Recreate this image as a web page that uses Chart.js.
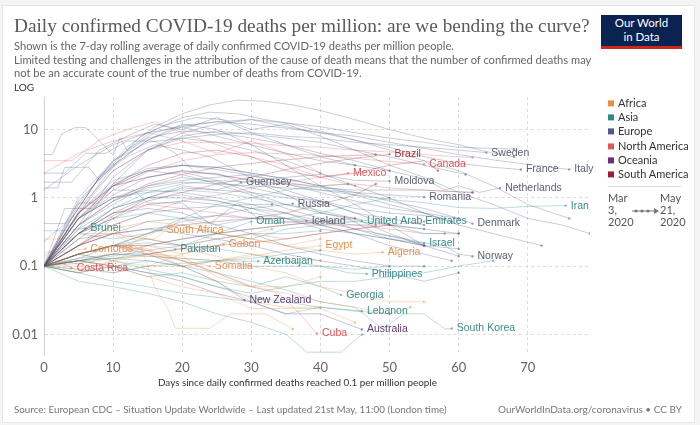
<!DOCTYPE html>
<html>
<head>
<meta charset="utf-8">
<script src="https://cdn.jsdelivr.net/npm/chart.js@4.4.0/dist/chart.umd.min.js"></script>
<style>
  html, body { margin: 0; padding: 0; }
  body { width: 700px; height: 425px; background: #f4f4f4; position: relative; overflow: hidden; font-family: Lato, "Noto Sans", sans-serif; }
  #card { position: absolute; left: 2px; top: 5px; width: 691px; height: 416px; background: #fff; border: 1px solid #e6e6e6; }
  #chart { position: absolute; left: 0; top: 0; }
  .t { position: absolute; white-space: nowrap; line-height: 1.2; transform: translateY(-50%); }
  #title { left: 14px; top: 26px; font-family: "Liberation Serif", serif; font-size: 21px; color: #5a5a5a; }
  .sub { left: 14px; font-size: 12px; color: #666; }
  #log { left: 14px; top: 87px; font-size: 10px; color: #333; }
  #logo { position: absolute; left: 601px; top: 15px; width: 81px; height: 30px; background: #0b2350; border-bottom: 3px solid #ce261e; color: #fff; font-size: 11.5px; text-align: center; line-height: 14px; padding-top: 1px; }
  .leg { left: 608px; font-size: 11px; color: #333; }
  .leg i { display: inline-block; width: 6px; height: 6px; margin-right: 4px; vertical-align: 1px; }
  #sep { position: absolute; left: 608px; top: 186px; width: 73px; height: 1px; background: #ddd; }
  .tm { font-size: 11px; color: #555; }
  #xtitle { left: 158px; top: 383px; font-size: 10.5px; color: #333; }
  .foot { top: 410px; font-size: 10.5px; color: #777; }
</style>
</head>
<body>
<div id="card"></div>
<canvas id="chart" width="700" height="425"></canvas>
<div class="t" id="title">Daily confirmed COVID-19 deaths per million: are we bending the curve?</div>
<div class="t sub" id="sub1" style="top:46px">Shown is the 7-day rolling average of daily confirmed COVID-19 deaths per million people.</div>
<div class="t sub" id="sub2" style="top:60px">Limited testing and challenges in the attribution of the cause of death means that the number of confirmed deaths may</div>
<div class="t sub" id="sub3" style="top:73px">not be an accurate count of the true number of deaths from COVID-19.</div>
<div class="t" id="log">LOG</div>
<div id="logo">Our World<br>in Data</div>
<div id="legend"></div>
<div id="sep"></div>
<div class="t tm" style="left:608px;top:198px">Mar</div>
<div class="t tm" style="left:608px;top:210px">3,</div>
<div class="t tm" style="left:608px;top:222px">2020</div>
<div class="t tm" style="left:660px;top:198px">May</div>
<div class="t tm" style="left:660px;top:210px">21,</div>
<div class="t tm" style="left:660px;top:222px">2020</div>
<svg style="position:absolute;left:630px;top:206px" width="32" height="10">
  <line x1="2" y1="5" x2="26" y2="5" stroke="#777" stroke-width="1"/>
  <circle cx="6" cy="5" r="1.6" fill="#777"/><circle cx="12" cy="5" r="1.6" fill="#777"/><circle cx="18" cy="5" r="1.6" fill="#777"/>
  <path d="M24 2 L29 5 L24 8 Z" fill="#777"/>
</svg>
<div class="t" id="xtitle">Days since daily confirmed deaths reached 0.1 per million people</div>
<div class="t foot" id="foot1" style="left:14px">Source: European CDC – Situation Update Worldwide – Last updated 21st May, 11:00 (London time)</div>
<div class="t foot" id="foot2" style="left:498px">OurWorldInData.org/coronavirus • CC BY</div>
<script>
// regions
const regionNames = ["Africa", "Asia", "Europe", "North America", "Oceania", "South America"];
const regionColors = ["#e8903f", "#2c8a8a", "#4a5a80", "#e0575b", "#6a2d80", "#9e2030"];
const labelColors = ["#e8904f", "#3a8c8a", "#5b6275", "#de5558", "#5e3a73", "#a8353d"];

// [days since 0.1/million, deaths per million (7-day avg)]
// Europe
const sweden = [[0,0.1],[3,0.3],[6,0.9],[10,2.5],[15,5],[20,7.5],[25,8.5],[30,9],[35,8],[40,7.5],[45,6.5],[50,6],[55,5.5],[60,5],[64,4.6]];
const france = [[0,0.1],[5,0.35],[10,1.6],[15,5],[20,9],[25,12],[30,14],[35,11],[40,9],[45,7],[50,5.5],[55,4],[60,3.2],[65,2.8],[69,2.6]];
const italy = [[0,0.1],[4,0.5],[8,2],[12,5],[16,9],[20,11.5],[25,13],[30,12],[35,10.5],[40,9],[45,8],[50,6.5],[55,5.3],[60,4.3],[65,3.6],[70,3.1],[76,2.6]];
const netherlands = [[0,0.1],[5,0.8],[10,3.5],[15,7.5],[20,9.5],[25,9],[30,7.5],[35,6],[40,4.5],[45,3.5],[50,2.5],[55,1.9],[58,1.3],[60,1.5],[63,1.2],[66,1.4]];
const moldova = [[0,0.1],[5,0.3],[10,0.6],[15,1],[20,1.5],[25,1.3],[30,1.8],[35,2],[40,2.2],[45,1.8],[50,1.76]];
const romania = [[0,0.1],[5,0.4],[10,0.9],[15,1.4],[20,1.7],[25,1.6],[30,1.5],[35,1.4],[40,1.3],[45,1.2],[50,1.1],[55,1.03]];
const denmark = [[0,0.1],[5,0.6],[10,1.5],[15,2.5],[20,3],[25,2.8],[30,2.3],[35,1.9],[40,1.5],[45,1.2],[50,0.9],[55,0.7],[60,0.5],[62,0.42]];
const norway = [[0,0.1],[5,0.5],[10,1],[15,1.3],[20,1.2],[25,1],[30,0.8],[35,0.6],[40,0.45],[45,0.35],[50,0.28],[55,0.22],[58,0.2],[60,0.15],[62,0.14]];
const iceland = [[0,0.42],[3,0.42],[5,0.84],[8,0.84],[10,1.3],[13,1.3],[15,0.84],[20,0.84],[24,0.42],[28,0.84],[32,0.42],[38,0.46]];
const russia = [[0,0.1],[5,0.13],[10,0.2],[15,0.3],[20,0.45],[25,0.55],[30,0.7],[36,0.82]];
const guernsey = [[0,2.3],[3,2.3],[6,4.5],[9,4.5],[12,6.8],[16,6.8],[19,4.5],[22,2.3],[25,2.3],[28.5,1.7]];
const belgium = [[0,0.1],[4,0.5],[8,2],[12,5.5],[16,11],[20,17],[24,23],[28,27],[32,26],[36,23],[40,19],[45,14],[50,10],[55,7.5],[60,6],[65,4.5],[68,4]];
const spain = [[0,0.1],[4,0.4],[8,1.6],[12,5],[16,10],[20,15],[24,18],[28,17],[32,14],[36,12],[40,9.5],[45,7],[50,5],[55,3.5],[60,2.5],[65,1.5],[70,0.8],[76,0.5]];
const uk = [[0,0.1],[5,0.9],[10,3],[15,7],[20,11],[25,13],[30,14],[35,12.5],[40,11],[45,9],[50,7.5],[55,6.5],[60,5.5],[65,5.3],[68,5.2]];
const ireland = [[0,0.1],[5,0.4],[10,2],[15,5],[20,8],[25,9.5],[30,8.5],[35,7.5],[40,6.5],[45,5],[50,4],[55,3],[61,2.2]];
const switzerland = [[0,0.1],[5,1],[10,3.5],[15,6.5],[20,7.5],[25,6.5],[30,5],[35,3.5],[40,2.3],[45,1.5],[50,1],[55,0.6],[60,0.4],[65,0.3],[72,0.2]];
const germany = [[0,0.1],[5,0.5],[10,1.5],[15,2.5],[20,3],[25,2.8],[30,2.3],[35,1.9],[40,1.5],[45,1.1],[50,0.8],[55,0.6],[60,0.5]];
const austria = [[0,0.1],[5,0.6],[10,1.8],[15,2.5],[20,2.2],[25,1.6],[30,1.1],[35,0.7],[40,0.5],[45,0.35],[50,0.25],[55,0.2],[60,0.18]];
const portugal = [[0,0.1],[5,0.6],[10,1.6],[15,2.7],[20,3],[25,2.6],[30,2.1],[35,1.7],[40,1.4],[45,1.3],[50,1.3],[55,1.3],[62,1.2]];
const sanMarino = [[0,4.3],[1.2,4.3],[2.6,8.7],[4.5,10.7],[6,10.7],[7,8.7],[10,4.2],[11,7.5],[12,5],[14,8],[18,12],[22,15],[26,14],[30,10],[35,12],[40,8],[45,5],[50,3],[55,2],[60,1.2],[65,0.8],[70,0.5],[75,0.4],[79,0.3]];
const andorra = [[0,1.4],[2,1.4],[3,2.8],[6.5,2.8],[8,1.8],[10,3],[15,7],[20,12],[25,10],[30,6],[35,3],[40,1.5],[45,0.8],[50,0.4],[55,0.2]];
const luxembourg = [[0,0.23],[4,0.5],[8,2],[12,4],[16,6],[20,5],[24,4],[28,2.5],[32,1.5],[36,1],[40,0.6],[44,0.5],[48,0.3],[52,0.25],[55,0.2]];
const slovenia = [[0,0.1],[3,0.7],[7,0.7],[10,1.5],[15,2],[20,2.4],[25,1.8],[30,1.2],[35,0.8],[40,0.6],[45,0.5],[50,0.3],[55,0.2],[60,0.14]];
const hungary = [[0,0.1],[5,0.2],[10,0.5],[15,1],[20,1.4],[25,1.3],[30,1.2],[35,1],[40,0.9],[45,0.7],[50,0.6],[55,0.55],[58,0.5]];
const bosnia = [[0,0.1],[5,0.3],[10,0.7],[15,1],[20,1],[25,0.9],[30,0.7],[35,0.6],[40,0.4],[45,0.3],[50,0.2],[55,0.15],[59,0.12]];
const finland = [[0,0.1],[5,0.4],[10,0.8],[15,1.5],[20,1.8],[25,2],[30,2.2],[35,1.6],[40,1.2],[45,0.9],[50,0.7],[55,0.6],[59,0.45]];
const estonia = [[0,0.1],[5,0.5],[10,1.1],[15,2],[20,2.5],[25,2.2],[30,1.8],[35,1.3],[40,0.9],[45,0.6],[50,0.4],[55,0.35],[60,0.3]];
const serbia = [[0,0.1],[5,0.3],[10,0.5],[15,0.8],[20,0.9],[25,0.8],[30,0.6],[35,0.5],[40,0.35],[45,0.3],[50,0.25],[55,0.2]];
const poland = [[0,0.1],[5,0.2],[10,0.3],[15,0.45],[20,0.5],[25,0.55],[30,0.5],[35,0.5],[40,0.45],[45,0.4],[48,0.4]];
const greece = [[0,0.1],[5,0.25],[10,0.3],[15,0.35],[20,0.3],[25,0.25],[30,0.2],[35,0.15],[40,0.12],[45,0.1],[50,0.08],[55,0.06],[60,0.08]];
const isleOfMan = [[0,1.7],[4,1.7],[8,5],[12,8],[16,12],[20,10],[25,15],[30,9],[35,6],[40,4],[45,3],[50,2.5]];
const jersey = [[0,1.3],[5,3],[10,6],[15,9],[20,11],[25,8],[30,6],[35,4.5],[40,3.5],[45,3]];
const northMacedonia = [[0,0.1],[5,0.5],[10,1],[15,1.5],[20,2],[25,1.7],[30,1.4],[35,1.1],[40,0.9],[45,0.6],[50,0.5],[55,0.4]];
const belarus = [[0,0.1],[5,0.2],[10,0.4],[15,0.6],[20,0.7],[25,0.75],[30,0.8],[33,0.8]];
const czechia = [[0,0.1],[5,0.3],[10,0.6],[15,0.7],[20,0.6],[25,0.4],[30,0.3],[35,0.2],[40,0.15],[45,0.12],[50,0.1],[55,0.1]];
// North America
const canada = [[0,0.1],[5,0.5],[10,1.3],[15,2.4],[20,3.5],[25,4.3],[30,4.6],[35,4.4],[40,4.2],[45,3.8],[50,3.4],[55,3.1]];
const mexico = [[0,0.1],[5,0.2],[10,0.4],[15,0.6],[20,0.9],[25,1.1],[30,1.4],[35,1.7],[40,2],[44,2.3]];
const costaRica = [[0,0.1],[2,0.12],[4,0.093]];
const cuba = [[0,0.1],[5,0.15],[10,0.2],[15,0.17],[20,0.12],[25,0.08],[30,0.05],[34,0.04],[37,0.02],[39.5,0.0103]];
const us = [[0,0.1],[5,0.6],[10,2.5],[15,5],[20,6.5],[25,6.5],[30,6.3],[35,5.8],[40,5.5],[45,5],[50,4.7],[55,4.3],[60,4],[62,3.9]];
const panama = [[0,0.1],[5,0.5],[10,1.5],[15,2],[20,2.5],[25,2.2],[30,1.8],[35,1.6],[40,1.5],[45,1.6],[50,1.4],[55,1.3],[62,1.2]];
const dominicanRep = [[0,0.1],[5,0.3],[10,0.6],[15,0.8],[20,0.7],[25,0.6],[30,0.5],[35,0.45],[40,0.4],[45,0.4],[50,0.35],[55,0.3],[60,0.3]];
const honduras = [[0,0.1],[5,0.2],[10,0.3],[15,0.25],[20,0.2],[25,0.25],[30,0.3],[35,0.25],[40,0.3],[45,0.35],[50,0.4],[55,0.45]];
const sintMaarten = [[0,3.5],[4,3.5],[8,7],[12,10],[16,13],[20,9],[25,6],[30,4],[35,3],[40,2],[45,1.5]];
const bermuda = [[0,2.3],[5,4.5],[10,6.8],[15,9],[20,6.8],[25,4.5],[30,6.8],[35,4.5],[40,2.3]];
// South America
const brazil = [[0,0.1],[5,0.25],[10,0.55],[15,0.9],[20,1.2],[25,1.6],[30,2],[35,2.6],[40,3.2],[45,3.8],[50,4.34]];
const ecuador = [[0,0.1],[5,0.6],[10,1.5],[15,3],[20,4.5],[25,5],[30,4],[35,2.5],[40,2],[45,2.3],[50,3],[55,3.5],[57,2.5]];
const peru = [[0,0.1],[5,0.4],[10,0.9],[15,1.6],[20,2.2],[25,2.8],[30,3.2],[35,3.6],[40,4],[45,4.2],[48,4.3]];
const chile = [[0,0.1],[5,0.2],[10,0.3],[15,0.35],[20,0.4],[25,0.45],[30,0.5],[35,0.6],[40,0.8],[45,1.1],[48,1.6]];
const bolivia = [[0,0.1],[5,0.15],[10,0.2],[15,0.2],[20,0.25],[25,0.3],[30,0.35],[35,0.4],[40,0.45],[45,0.5]];
const colombia = [[0,0.1],[5,0.12],[10,0.15],[15,0.15],[20,0.18],[25,0.2],[30,0.22],[35,0.25],[40,0.3],[45,0.35],[50,0.4]];
// Asia
const iran = [[0,0.1],[5,0.3],[10,0.7],[15,1.2],[20,1.6],[25,1.8],[30,1.7],[35,1.6],[40,1.3],[45,1.1],[50,0.95],[55,0.85],[60,0.72],[65,0.7],[70,0.75],[75.5,0.77]];
const uae = [[0,0.1],[5,0.12],[10,0.15],[15,0.2],[20,0.25],[25,0.3],[30,0.35],[35,0.4],[40,0.45],[46,0.46]];
const oman = [[0,0.1],[5,0.15],[10,0.2],[15,0.25],[20,0.2],[25,0.3],[30,0.45]];
const brunei = [[0,0.33],[3,0.33],[6,0.36]];
const pakistan = [[0,0.1],[5,0.11],[10,0.13],[15,0.15],[19,0.176]];
const israel = [[0,0.1],[5,0.35],[10,0.7],[15,1],[20,1.1],[25,0.9],[30,0.7],[35,0.5],[40,0.4],[45,0.3],[50,0.25],[55,0.216]];
const azerbaijan = [[0,0.1],[5,0.08],[10,0.1],[15,0.12],[20,0.1],[25,0.12],[31,0.118]];
const philippines = [[0,0.1],[5,0.15],[10,0.2],[15,0.22],[20,0.2],[25,0.18],[30,0.15],[35,0.12],[40,0.1],[44,0.08],[46.7,0.077]];
const georgia = [[0,0.1],[5,0.08],[10,0.1],[15,0.07],[20,0.08],[25,0.06],[30,0.05],[35,0.07],[40,0.05],[43,0.038]];
const lebanon = [[0,0.1],[5,0.08],[10,0.06],[15,0.05],[20,0.04],[25,0.035],[30,0.03],[35,0.02],[40,0.025],[46,0.022]];
const southKorea = [[0,0.1],[5,0.12],[10,0.13],[15,0.12],[20,0.1],[25,0.08],[30,0.06],[35,0.045],[40,0.03],[45,0.025],[49,0.012],[52,0.02],[55,0.02],[58,0.012],[59,0.0122]];
const turkey = [[0,0.1],[5,0.5],[10,1],[15,1.2],[20,1.3],[25,1.2],[30,1],[35,0.8],[40,0.65],[45,0.5],[50,0.4],[55,0.3],[58,0.3]];
const kuwait = [[0,0.1],[5,0.15],[10,0.2],[15,0.3],[20,0.5],[25,0.8],[30,1],[35,1.3],[40,1.5],[44,1.6]];
const bahrain = [[0,0.1],[5,0.3],[10,0.25],[15,0.3],[20,0.4],[25,0.3],[30,0.25],[35,0.35],[40,0.4],[45,0.45],[50,0.4],[55,0.35]];
const saudiArabia = [[0,0.1],[5,0.12],[10,0.14],[15,0.17],[20,0.2],[25,0.25],[30,0.3],[35,0.3],[40,0.33]];
const armenia = [[0,0.1],[5,0.3],[10,0.5],[15,0.6],[20,0.5],[25,0.4],[30,0.5],[35,0.5],[40,0.6],[45,0.8],[50,1]];
const malaysia = [[0,0.1],[5,0.15],[10,0.12],[15,0.09],[20,0.07],[25,0.05],[30,0.035],[35,0.03],[40,0.025],[45,0.022],[50,0.02]];
const iraq = [[0,0.1],[5,0.12],[10,0.1],[15,0.08],[20,0.07],[25,0.05],[30,0.04],[35,0.05],[40,0.06],[45,0.06],[50,0.07],[55,0.08],[60,0.1],[65,0.12]];
const indonesia = [[0,0.1],[5,0.13],[10,0.15],[15,0.14],[20,0.13],[25,0.12],[30,0.1],[35,0.1],[40,0.1],[45,0.09],[50,0.1]];
const sriLanka = [[0,0.1],[5,0.06],[10,0.05],[15,0.04],[20,0.03],[25,0.02],[30,0.015],[35,0.01],[38,0.0055],[43,0.0055],[46,0.01]];
const bangladesh = [[0,0.1],[5,0.09],[10,0.08],[15,0.1],[20,0.11],[25,0.12],[30,0.13],[35,0.15],[40,0.17]];
// Africa
const southAfrica = [[0,0.1],[3,0.12],[6,0.1],[9,0.15],[12,0.2],[15,0.28],[17,0.34]];
const comoros = [[0,0.16],[3,0.16],[6,0.18]];
const gabon = [[0,0.1],[5,0.15],[10,0.12],[15,0.2],[20,0.15],[26,0.21]];
const egypt = [[0,0.1],[5,0.12],[10,0.13],[15,0.14],[20,0.13],[25,0.12],[30,0.14],[35,0.17],[40,0.2]];
const algeria = [[0,0.1],[5,0.2],[10,0.35],[15,0.45],[20,0.4],[25,0.3],[30,0.25],[35,0.2],[40,0.17],[45,0.15],[49,0.16]];
const somalia = [[0,0.1],[5,0.09],[10,0.12],[15,0.15],[20,0.12],[24,0.1]];
const morocco = [[0,0.1],[5,0.15],[10,0.2],[15,0.2],[20,0.18],[25,0.14],[30,0.1],[35,0.08],[40,0.05],[45,0.04],[50,0.03],[55,0.03]];
const tunisia = [[0,0.1],[5,0.15],[10,0.2],[15,0.18],[20,0.12],[25,0.08],[30,0.05],[35,0.04],[40,0.03],[45,0.025],[50,0.02],[53,0.025]];
const cameroon = [[0,0.1],[5,0.08],[10,0.12],[15,0.1],[20,0.1],[25,0.12],[30,0.15],[35,0.13],[40,0.12]];
const djibouti = [[0,0.14],[5,0.3],[10,0.3],[15,0.15],[20,0.14],[25,0.07],[30,0.05],[35,0.05],[40,0.07]];
const mauritius = [[0,0.11],[3,0.35],[7,0.8],[10,0.5],[14,0.2],[16,0.05],[18,0.023],[19,0.0123],[24,0.0123],[27,0.02],[32,0.02],[36,0.012]];
const capeVerde = [[0,0.25],[4,0.25],[8,0.5],[12,0.25],[16,0.25],[20,0.5],[25,0.3],[30,0.25],[35,0.2],[40,0.25]];
const sudan = [[0,0.1],[5,0.1],[10,0.08],[15,0.1],[20,0.15],[25,0.2],[30,0.3],[33,0.35]];
const liberia = [[0,0.1],[5,0.15],[10,0.2],[15,0.17],[20,0.1],[25,0.06],[30,0.03],[35,0.025],[40,0.025]];
const niger = [[0,0.1],[5,0.12],[10,0.1],[15,0.07],[20,0.05],[25,0.04],[30,0.024],[35,0.024],[40,0.024],[45,0.015]];
// Oceania
const newZealand = [[0,0.1],[5,0.15],[10,0.2],[15,0.15],[20,0.1],[25,0.06],[29,0.032]];
const australia = [[0,0.1],[5,0.12],[10,0.1],[15,0.08],[20,0.06],[25,0.04],[30,0.03],[35,0.02],[40,0.02],[46,0.0118]];

// name, region, data, labelled
const countries = [
  ["San Marino", "Europe", sanMarino, false], ["Andorra", "Europe", andorra, false],
  ["Belgium", "Europe", belgium, false], ["Spain", "Europe", spain, false], ["United Kingdom", "Europe", uk, false],
  ["Ireland", "Europe", ireland, false], ["Switzerland", "Europe", switzerland, false], ["Germany", "Europe", germany, false],
  ["Austria", "Europe", austria, false], ["Portugal", "Europe", portugal, false], ["Luxembourg", "Europe", luxembourg, false],
  ["Slovenia", "Europe", slovenia, false], ["Hungary", "Europe", hungary, false], ["Bosnia and Herzegovina", "Europe", bosnia, false],
  ["Finland", "Europe", finland, false], ["Estonia", "Europe", estonia, false], ["Serbia", "Europe", serbia, false],
  ["Poland", "Europe", poland, false], ["Greece", "Europe", greece, false],
  ["Isle of Man", "Europe", isleOfMan, false], ["Jersey", "Europe", jersey, false],
  ["North Macedonia", "Europe", northMacedonia, false], ["Belarus", "Europe", belarus, false], ["Czechia", "Europe", czechia, false],
  ["United States", "North America", us, false], ["Panama", "North America", panama, false],
  ["Dominican Republic", "North America", dominicanRep, false], ["Honduras", "North America", honduras, false],
  ["Sint Maarten", "North America", sintMaarten, false], ["Bermuda", "North America", bermuda, false],
  ["Ecuador", "South America", ecuador, false], ["Peru", "South America", peru, false], ["Chile", "South America", chile, false],
  ["Bolivia", "South America", bolivia, false], ["Colombia", "South America", colombia, false],
  ["Turkey", "Asia", turkey, false], ["Kuwait", "Asia", kuwait, false], ["Bahrain", "Asia", bahrain, false],
  ["Saudi Arabia", "Asia", saudiArabia, false], ["Armenia", "Asia", armenia, false], ["Malaysia", "Asia", malaysia, false],
  ["Iraq", "Asia", iraq, false], ["Indonesia", "Asia", indonesia, false], ["Sri Lanka", "Asia", sriLanka, false],
  ["Bangladesh", "Asia", bangladesh, false],
  ["Morocco", "Africa", morocco, false], ["Tunisia", "Africa", tunisia, false], ["Cameroon", "Africa", cameroon, false],
  ["Djibouti", "Africa", djibouti, false], ["Mauritius", "Africa", mauritius, false], ["Cape Verde", "Africa", capeVerde, false],
  ["Sudan", "Africa", sudan, false], ["Liberia", "Africa", liberia, false], ["Niger", "Africa", niger, false],
  ["Sweden", "Europe", sweden, true], ["France", "Europe", france, true], ["Italy", "Europe", italy, true],
  ["Netherlands", "Europe", netherlands, true], ["Moldova", "Europe", moldova, true], ["Romania", "Europe", romania, true],
  ["Denmark", "Europe", denmark, true], ["Norway", "Europe", norway, true], ["Iceland", "Europe", iceland, true],
  ["Russia", "Europe", russia, true], ["Guernsey", "Europe", guernsey, true],
  ["Canada", "North America", canada, true], ["Mexico", "North America", mexico, true],
  ["Costa Rica", "North America", costaRica, true], ["Cuba", "North America", cuba, true],
  ["Brazil", "South America", brazil, true],
  ["Iran", "Asia", iran, true], ["United Arab Emirates", "Asia", uae, true], ["Oman", "Asia", oman, true],
  ["Brunei", "Asia", brunei, true], ["Pakistan", "Asia", pakistan, true], ["Israel", "Asia", israel, true],
  ["Azerbaijan", "Asia", azerbaijan, true], ["Philippines", "Asia", philippines, true], ["Georgia", "Asia", georgia, true],
  ["Lebanon", "Asia", lebanon, true], ["South Korea", "Asia", southKorea, true],
  ["South Africa", "Africa", southAfrica, true], ["Comoros", "Africa", comoros, true], ["Gabon", "Africa", gabon, true],
  ["Egypt", "Africa", egypt, true], ["Algeria", "Africa", algeria, true], ["Somalia", "Africa", somalia, true],
  ["New Zealand", "Oceania", newZealand, true], ["Australia", "Oceania", australia, true]
];

const xTicks = [0, 10, 20, 30, 40, 50, 60, 70];
const yTicks = [0.01, 0.1, 1, 10];

function rgba(hex, a) {
  const n = parseInt(hex.slice(1), 16);
  return "rgba(" + (n >> 16) + "," + ((n >> 8) & 255) + "," + (n & 255) + "," + a + ")";
}

// legend
const legend = document.getElementById("legend");
const legendY = [103, 117, 131, 146, 160, 174];
regionNames.forEach((r, i) => {
  const d = document.createElement("div");
  d.className = "t leg";
  d.style.top = legendY[i] + "px";
  d.innerHTML = '<i style="background:' + regionColors[i] + '"></i>' + r;
  legend.appendChild(d);
});

// squeeze the header/footer text to the reference widths
function fit(id, w) {
  const el = document.getElementById(id);
  const size = parseFloat(getComputedStyle(el).fontSize);
  el.style.fontSize = (size * w / el.getBoundingClientRect().width) + "px";
}
fit("title", 576);
fit("sub2", 578);
["sub1", "sub3"].forEach(id => document.getElementById(id).style.fontSize = document.getElementById("sub2").style.fontSize);
fit("foot1", 433);
fit("foot2", 184);
fit("xtitle", 279);

const datasets = countries.map(([name, region, pts, lab]) => {
  const ri = regionNames.indexOf(region);
  return {
    label: name,
    data: pts.map(p => ({ x: p[0], y: p[1] })),
    borderColor: rgba(regionColors[ri], 0.3),
    backgroundColor: rgba(regionColors[ri], 0.55),
    borderWidth: 1,
    pointRadius: c => c.dataIndex === pts.length - 1 ? 1.2 : 0,
    pointBorderWidth: 0,
    tension: 0,
    showLabel: lab,
    labelColor: labelColors[ri]
  };
});

const endLabels = {
  id: "endLabels",
  afterDatasetsDraw(chart) {
    const ctx = chart.ctx;
    ctx.save();
    ctx.font = "10.5px 'Liberation Sans', Arial, sans-serif";
    ctx.textBaseline = "middle";
    chart.data.datasets.forEach((ds, i) => {
      if (!ds.showLabel) return;
      const pts = chart.getDatasetMeta(i).data;
      const last = pts[pts.length - 1];
      ctx.fillStyle = ds.labelColor;
      ctx.fillText(ds.label, last.x + 5, last.y);
    });
    ctx.restore();
  }
};

new Chart(document.getElementById("chart"), {
  type: "line",
  data: { datasets: datasets },
  plugins: [endLabels],
  options: {
    responsive: false,
    animation: false,
    events: [],
    layout: { padding: { left: 4, top: 97, right: 110, bottom: 40 } },
    plugins: { legend: { display: false }, tooltip: { enabled: false } },
    scales: {
      x: {
        type: "linear", min: 0, max: 79,
        afterBuildTicks: s => { s.ticks = xTicks.map(v => ({ value: v })); },
        afterFit: s => { s.height = 30; },
        grid: { color: c => c.tick && c.tick.value === 0 ? "rgba(0,0,0,0)" : "#dcdcdc", drawTicks: false },
        border: { display: false, dash: [3, 3] },
        ticks: { color: "#666", padding: 5, font: { family: "Lato", size: 13 } }
      },
      y: {
        type: "logarithmic", min: 0.005, max: 30,
        afterBuildTicks: s => { s.ticks = yTicks.map(v => ({ value: v })); },
        afterFit: s => { s.width = 40; },
        grid: { color: "#dcdcdc", drawTicks: false },
        border: { display: true, color: "#d0d0d0", dash: [3, 3] },
        ticks: { color: "#666", padding: 6, font: { family: "Lato", size: 13 }, callback: v => String(v) }
      }
    }
  }
});
</script>
</body>
</html>
